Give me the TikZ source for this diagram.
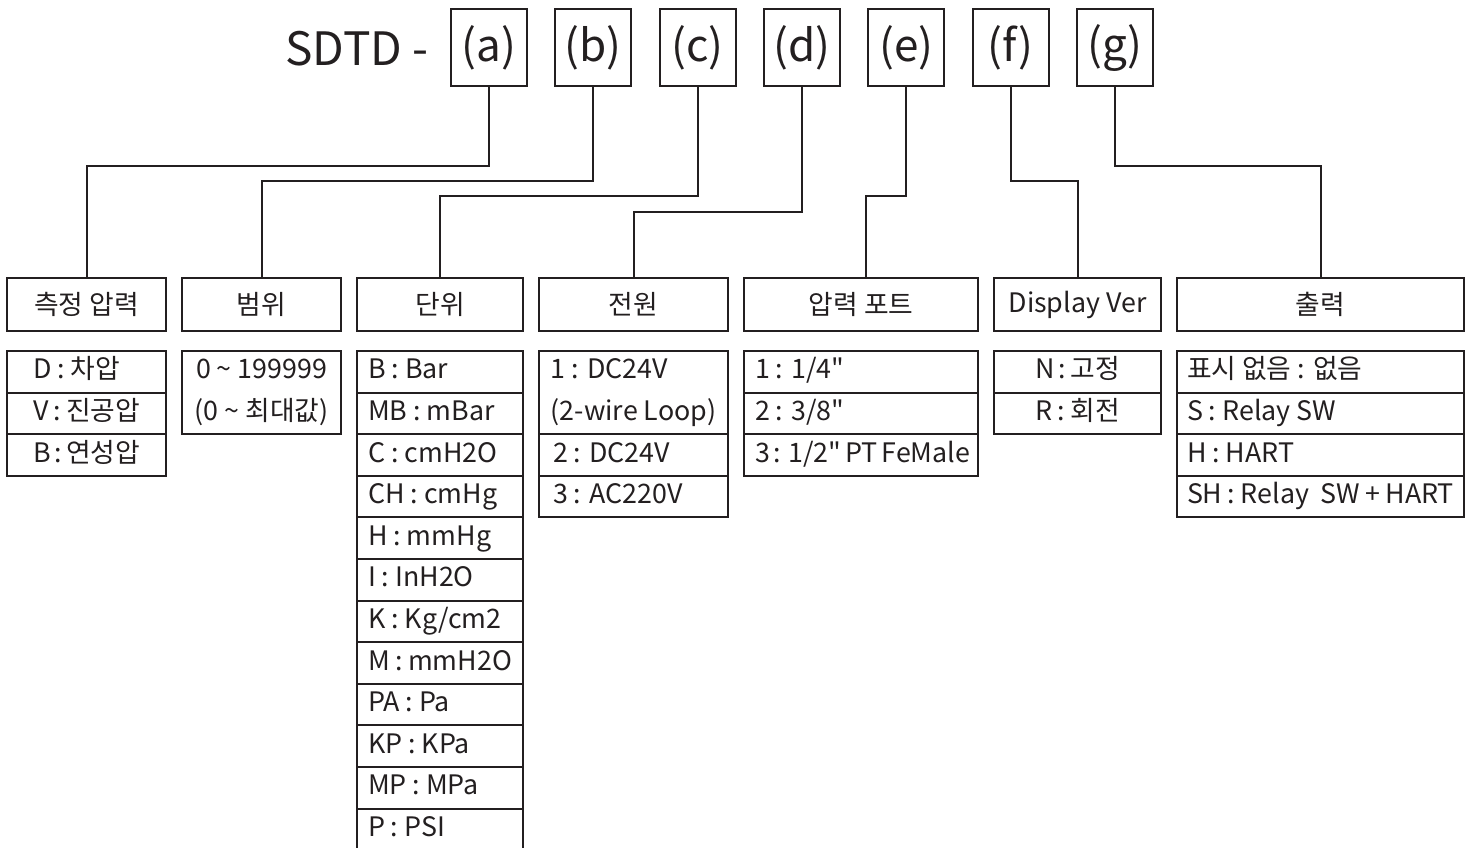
\documentclass[tikz,border=0pt]{standalone}
\usepackage{fontspec}
\setmainfont{Noto Sans CJK KR}[Ligatures=TeXOff]
\usetikzlibrary{positioning}
\definecolor{specink}{RGB}{35,31,32}
\newcommand{\cellfont}{\fontsize{26.8}{41.6}\selectfont}
\tikzset{
  %% ---- boxes ----
  codebox/.style = {rectangle, draw=specink, line width=2pt, outer sep=0pt,
                    minimum width=76pt, minimum height=77pt, inner sep=0pt,
                    font=\fontsize{44}{48}\selectfont, text=specink},
  headbox/.style = {rectangle, draw=specink, line width=2pt, outer sep=0pt,
                    minimum width=#1, minimum height=53pt, inner sep=0pt,
                    font=\cellfont, text=specink},
  cell/.style    = {rectangle, draw=specink, line width=2pt, outer sep=0pt,
                    minimum width=#1, minimum height=41.6pt, inner sep=0pt,
                    text height=20pt, text depth=6pt,
                    font=\cellfont, text=specink},
  lcell/.style 2 args = {cell=#1,
                    execute at begin node={\hbox to \dimexpr#1-#2-#2\relax\bgroup},
                    execute at end node={\hfil\egroup}},
  tallcell/.style = {rectangle, draw=specink, line width=2pt, outer sep=0pt,
                    minimum width=#1, minimum height=83.2pt, inner sep=0pt,
                    font=\cellfont, text=specink},
  %% ---- connectors ----
  link/.style    = {line width=2pt, color=specink},
}

\begin{document}
\begin{tikzpicture}[
  x=1pt, y=-1pt,
  presscell/.style = {lcell={159pt}{26pt}},
  unitcell/.style  = {lcell={166pt}{11pt}},
  powercell/.style = {lcell={189pt}{14pt}},
  portcell/.style  = {lcell={234pt}{11pt}},
  dispcell/.style  = {lcell={167pt}{41pt}},
  outcell/.style   = {lcell={287pt}{10pt}}
]
\useasboundingbox (0,0) rectangle (1471,847);

% model code and option letters
\node[anchor=base east, inner sep=0pt, font=\fontsize{46}{50}\selectfont,
      text=specink] (model) at (429,65) {SDTD -};
\node[codebox] (ca) at (489,47.5) {(a)};
\node[codebox, right=28.3pt of ca] (cb) {(b)};
\node[codebox, right=28.3pt of cb] (cc) {(c)};
\node[codebox, right=28.3pt of cc] (cd) {(d)};
\node[codebox, right=28.3pt of cd] (ce) {(e)};
\node[codebox, right=28.3pt of ce] (cf) {(f)};
\node[codebox, right=28.3pt of cf] (cg) {(g)};

% column headers
\node[headbox=159pt] (ha) at (86.5,304.5)  {측정 압력};
\node[headbox=159pt] (hb) at (261.5,304.5) {범위};
\node[headbox=166pt] (hc) at (440,304.5)   {단위};
\node[headbox=189pt] (hd) at (633.5,304.5) {전원};
\node[headbox=234pt] (he) at (861,304.5)   {압력 포트};
\node[headbox=167pt] (hf) at (1077.5,304.5) {Display Ver};
\node[headbox=287pt] (hg) at (1320.5,304.5) {출력};

% letter -> header
\draw[link] (ca.south) -- ++(0,80)  -| (ha.north);
\draw[link] (cb.south) -- ++(0,95)  -| (hb.north);
\draw[link] (cc.south) -- ++(0,110) -| (hc.north);
\draw[link] (cd.south) -- ++(0,126) -| (hd.north);
\draw[link] (ce.south) -- ++(0,110) -| ([xshift=5pt]he.north);
\draw[link] (cf.south) -- ++(0,95)  -| (hf.north);
\draw[link] (cg.south) -- ++(0,80)  -| (hg.north);

% (a) pressure type
\node[presscell, anchor=north west] (pa1) at (7,351) {D : 차압};
\node[presscell, below=0pt of pa1] (pa2) {V : 진공압};
\node[presscell, below=0pt of pa2] (pa3) {B : 연성압};

% (b) range
\node[tallcell=159pt, align=center, anchor=north west] (rg1) at (182,351)
  {0 \textasciitilde{} 199999\\(0 \textasciitilde{} 최대값)};

% (c) unit
\node[unitcell, anchor=north west] (un1) at (357,351) {B : Bar};
\node[unitcell, below=0pt of un1]  (un2)  {MB : mBar};
\node[unitcell, below=0pt of un2]  (un3)  {C : cmH2O};
\node[unitcell, below=0pt of un3]  (un4)  {CH : cmHg};
\node[unitcell, below=0pt of un4]  (un5)  {H : mmHg};
\node[unitcell, below=0pt of un5]  (un6)  {I : InH2O};
\node[unitcell, below=0pt of un6]  (un7)  {K : Kg/cm2};
\node[unitcell, below=0pt of un7]  (un8)  {M : mmH2O};
\node[unitcell, below=0pt of un8]  (un9)  {PA : Pa};
\node[unitcell, below=0pt of un9]  (un10) {KP : KPa};
\node[unitcell, below=0pt of un10] (un11) {MP : MPa};
\node[unitcell, below=0pt of un11] (un12) {P : PSI};

% (d) power
\node[tallcell=189pt, align=left, anchor=north west] (pw1) at (539,351)
  {1 : DC24V\\(2-wire Loop)};
\node[powercell, below=0pt of pw1] (pw2) {2 : DC24V};
\node[powercell, below=0pt of pw2] (pw3) {3 : AC220V};

% (e) pressure port
\node[portcell, anchor=north west] (pt1) at (744,351) {1 : 1/4"};
\node[portcell, below=0pt of pt1] (pt2) {2 : 3/8"};
\node[portcell, below=0pt of pt2] (pt3) {3 : 1/2" PT FeMale};

% (f) display
\node[dispcell, anchor=north west] (dp1) at (994,351) {N : 고정};
\node[dispcell, below=0pt of dp1] (dp2) {R : 회전};

% (g) output
\node[outcell, anchor=north west] (ot1) at (1177,351) {표시 없음 : 없음};
\node[outcell, below=0pt of ot1] (ot2) {S : Relay SW};
\node[outcell, below=0pt of ot2] (ot3) {H : HART};
\node[outcell, below=0pt of ot3] (ot4) {SH : Relay\ \ SW + HART};

\end{tikzpicture}
\end{document}
